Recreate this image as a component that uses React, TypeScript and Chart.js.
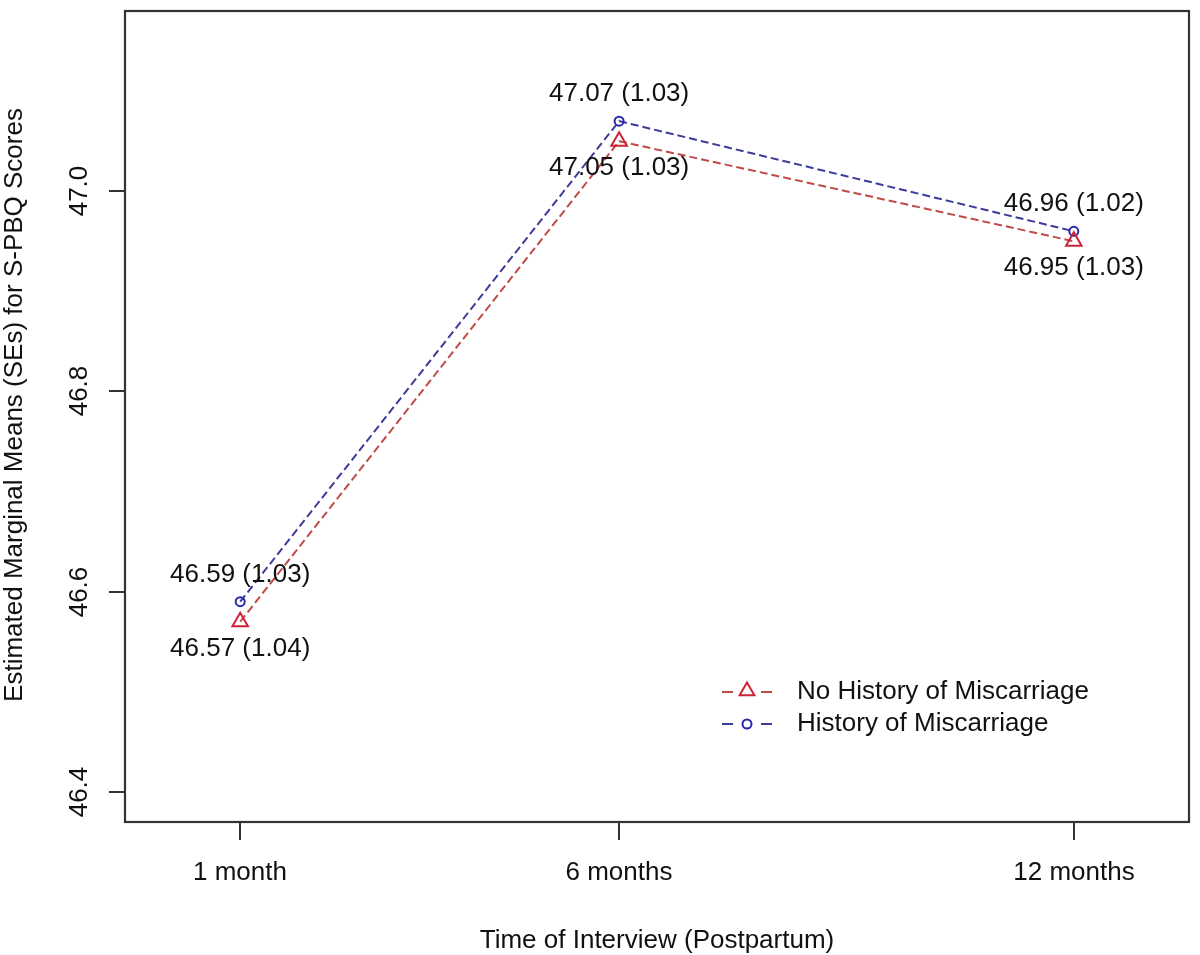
import React, { useEffect, useRef } from "react";
import { Chart, registerables } from "chart.js";

Chart.register(...registerables);

const months = [1, 6, 12];
const monthLabels = ["1 month", "6 months", "12 months"];
const noHistoryMeans = [46.57, 47.05, 46.95];
const noHistorySE = [1.04, 1.03, 1.03];
const historyMeans = [46.59, 47.07, 46.96];
const historySE = [1.03, 1.03, 1.02];
const yTickValues = [46.4, 46.6, 46.8, 47.0];
const seriesNames = ["No History of Miscarriage", "History of Miscarriage"];
const xTitle = "Time of Interview (Postpartum)";
const yTitle = "Estimated Marginal Means (SEs) for S-PBQ Scores";

const FONT = "26px 'Liberation Sans', Arial, sans-serif";
const RED_LINE = "rgb(190,75,70)";
const RED_MARK = "rgb(205,35,55)";
const BLUE_LINE = "rgb(60,60,155)";
const BLUE_MARK = "rgb(40,40,175)";
const AXIS = "#333";
const DASH = [8, 4];

function drawTriangle(ctx: CanvasRenderingContext2D, x: number, y: number, r: number) {
  ctx.beginPath();
  for (let i = 0; i < 3; i++) {
    const a = -Math.PI / 2 + (i * 2 * Math.PI) / 3;
    const px = x + Math.cos(a) * r;
    const py = y + Math.sin(a) * r;
    if (i === 0) ctx.moveTo(px, py);
    else ctx.lineTo(px, py);
  }
  ctx.closePath();
  ctx.stroke();
}

const decorPlugin = {
  id: "decor",
  afterDraw(chart: any) {
    const ctx: CanvasRenderingContext2D = chart.ctx;
    const area = chart.chartArea;
    const xs = chart.scales.x;
    const ys = chart.scales.y;
    ctx.save();
    // box
    ctx.strokeStyle = AXIS;
    ctx.lineWidth = 2.2;
    ctx.setLineDash([]);
    ctx.strokeRect(area.left, area.top, area.right - area.left, area.bottom - area.top);

    ctx.fillStyle = "#111";
    ctx.font = FONT;
    ctx.lineWidth = 2;
    // y ticks
    yTickValues.forEach((v) => {
      const y = Math.round(ys.getPixelForValue(v));
      ctx.beginPath();
      ctx.moveTo(area.left - 16, y);
      ctx.lineTo(area.left, y);
      ctx.stroke();
      ctx.save();
      ctx.translate(80, y);
      ctx.rotate(-Math.PI / 2);
      ctx.textAlign = "center";
      ctx.textBaseline = "middle";
      ctx.fillText(v.toFixed(1), 0, 0);
      ctx.restore();
    });
    // x ticks
    months.forEach((m, i) => {
      const x = Math.round(xs.getPixelForValue(m));
      ctx.beginPath();
      ctx.moveTo(x, area.bottom);
      ctx.lineTo(x, area.bottom + 18);
      ctx.stroke();
      ctx.textAlign = "center";
      ctx.textBaseline = "middle";
      ctx.fillText(monthLabels[i], x, 873);
    });
    // titles
    ctx.textAlign = "center";
    ctx.textBaseline = "middle";
    ctx.fillText(xTitle, (area.left + area.right) / 2, 941);
    ctx.save();
    ctx.translate(15, 405);
    ctx.rotate(-Math.PI / 2);
    ctx.fillText(yTitle, 0, 0);
    ctx.restore();

    // data labels
    months.forEach((m, i) => {
      const x = xs.getPixelForValue(m);
      const yb = ys.getPixelForValue(historyMeans[i]);
      const yr = ys.getPixelForValue(noHistoryMeans[i]);
      ctx.fillText(`${historyMeans[i].toFixed(2)} (${historySE[i].toFixed(2)})`, x, yb - 27);
      ctx.fillText(`${noHistoryMeans[i].toFixed(2)} (${noHistorySE[i].toFixed(2)})`, x, yr + 27);
    });

    // legend
    const lx0 = 722;
    const lx1 = 772;
    const mx = 747;
    const rows = [692, 724];
    [RED_LINE, BLUE_LINE].forEach((col, i) => {
      const y = rows[i];
      ctx.strokeStyle = col;
      ctx.lineWidth = 2;
      ctx.beginPath();
      ctx.moveTo(lx0, y);
      ctx.lineTo(lx0 + 11, y);
      ctx.moveTo(lx1 - 11, y);
      ctx.lineTo(lx1, y);
      ctx.stroke();
      ctx.lineWidth = 2;
      if (i === 0) {
        ctx.strokeStyle = RED_MARK;
        drawTriangle(ctx, mx, y - 1, 8.5);
      } else {
        ctx.strokeStyle = BLUE_MARK;
        ctx.beginPath();
        ctx.arc(mx, y, 4.5, 0, Math.PI * 2);
        ctx.stroke();
      }
      ctx.fillStyle = "#111";
      ctx.textAlign = "left";
      ctx.textBaseline = "middle";
      ctx.fillText(seriesNames[i], 797, y);
    });
    ctx.restore();
  },
};

export default function App() {
  const ref = useRef<HTMLCanvasElement | null>(null);
  useEffect(() => {
    if (!ref.current) return;
    const chart = new Chart(ref.current, {
      type: "line",
      data: {
        datasets: [
          {
            label: seriesNames[0],
            data: months.map((m, i) => ({ x: m, y: noHistoryMeans[i] })),
            borderColor: RED_LINE,
            borderWidth: 2,
            borderDash: DASH,
            pointStyle: "triangle",
            pointRadius: 9,
            pointBorderWidth: 2,
            pointBorderColor: RED_MARK,
            pointBackgroundColor: "rgba(0,0,0,0)",
            fill: false,
            tension: 0,
          },
          {
            label: seriesNames[1],
            data: months.map((m, i) => ({ x: m, y: historyMeans[i] })),
            borderColor: BLUE_LINE,
            borderWidth: 2,
            borderDash: DASH,
            pointStyle: "circle",
            pointRadius: 4.5,
            pointBorderWidth: 2,
            pointBorderColor: BLUE_MARK,
            pointBackgroundColor: "rgba(0,0,0,0)",
            fill: false,
            tension: 0,
          },
        ],
      },
      options: {
        animation: false,
        responsive: false,
        maintainAspectRatio: false,
        layout: { padding: { left: 125, top: 4, right: 4, bottom: 133 } },
        plugins: { legend: { display: false }, tooltip: { enabled: false } },
        scales: {
          x: { type: "linear", min: -0.52, max: 13.52, display: false },
          y: { type: "linear", min: 46.37, max: 47.18, display: false },
        },
      },
      plugins: [decorPlugin],
    });
    return () => chart.destroy();
  }, []);
  return (
    <div style={{ position: "fixed", left: 0, top: 0, width: 1200, height: 955, background: "#fff" }}>
      <canvas ref={ref} width={1200} height={955} style={{ display: "block" }} />
    </div>
  );
}
